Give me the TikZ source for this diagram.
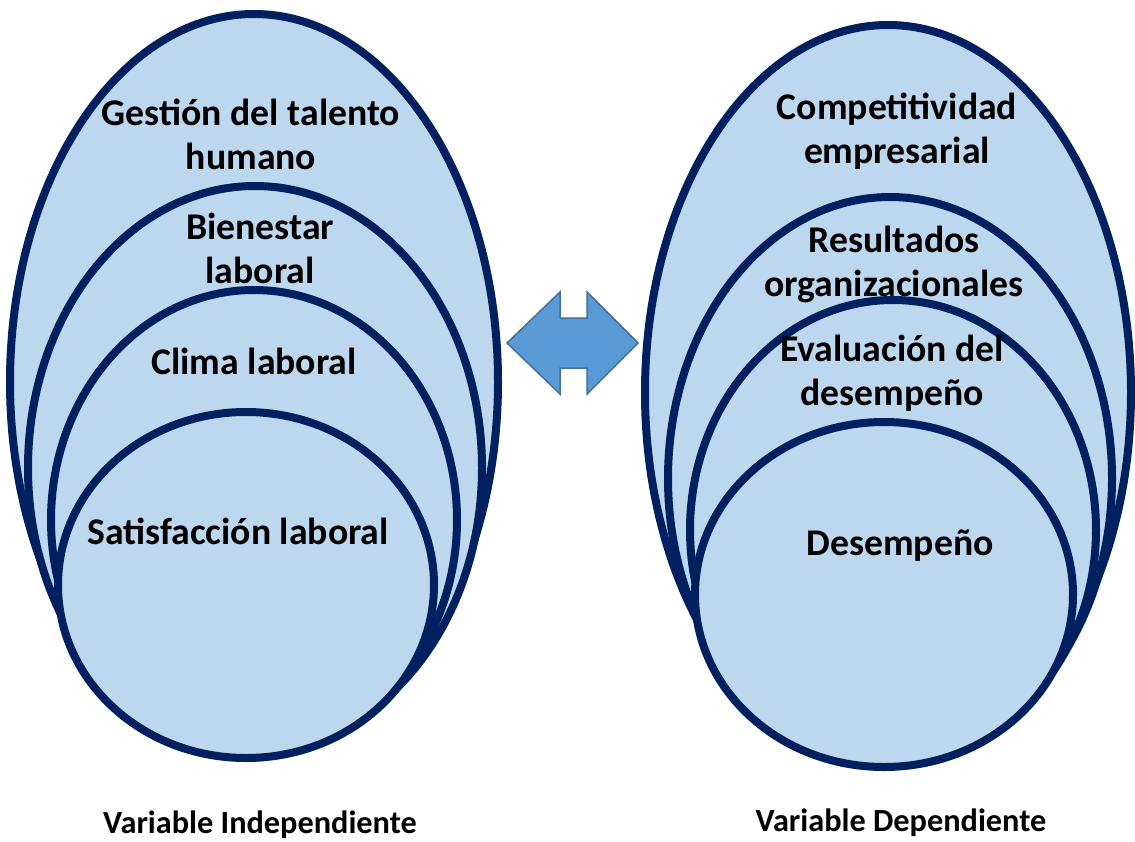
\documentclass[tikz,border=0pt]{standalone}
\usepackage{fontspec}
\setmainfont{Carlito}
\definecolor{navy}{HTML}{002060}
\definecolor{pale}{HTML}{BDD7EE}
\definecolor{arrowfill}{HTML}{5B9BD5}
\definecolor{arrowline}{HTML}{41719C}
\tikzset{
  ring/.style={draw=navy, fill=pale, line width=8pt},
  lbl/.style={align=center, font=\bfseries\fontsize{37.7}{44}\selectfont, inner sep=0pt},
  varcaption/.style={font=\bfseries\fontsize{32.3}{36}\selectfont, inner sep=0pt},
  dblarrow/.style={draw=arrowline, fill=arrowfill, line width=1.5pt, line join=miter}
}
\begin{document}
\begin{tikzpicture}[x=1pt,y=-1pt]
\useasboundingbox (0,0) rectangle (1135,841);
% left group
\draw[ring] (254,382) ellipse [x radius=244, y radius=368];
\node[lbl] (gth) at (251,134) {Gestión del talento\\humano};
\draw[ring] (255,468) ellipse [x radius=227, y radius=282];
\node[lbl] (bl) at (260,248) {Bienestar\\laboral};
\draw[ring] (254,520) ellipse [x radius=203, y radius=230];
\node[lbl] (cl) at (254,361) {Clima laboral};
\draw[ring] (246,585) ellipse [x radius=188, y radius=173];
\node[lbl] (sl) at (238,531) {Satisfacción laboral};
\node[varcaption] (vi) at (260,825) {Variable Independiente};
% right group
\draw[ring] (888,392.5) ellipse [x radius=243, y radius=367.5];
\node[lbl] (ce) at (897,131) {Competitividad\\empresarial};
\draw[ring] (890,478.5) ellipse [x radius=222, y radius=281.5];
\node[lbl] (ro) at (894,264) {Resultados\\organizacionales};
\draw[ring] (893,530) ellipse [x radius=203, y radius=230];
\node[lbl] (ed) at (892,373) {Evaluación del\\desempeño};
\draw[ring] (884,594.5) ellipse [x radius=189, y radius=172.5];
\node[lbl] (de) at (900,546) {Desempeño};
\node[varcaption] (vd) at (901,823) {Variable Dependiente};
% double arrow
\draw[dblarrow] (507,343) -- (560,292) -- (560,318) -- (587,318) -- (587,292) -- (638,343)
  -- (587,394) -- (587,368) -- (560,368) -- (560,394) -- cycle;
\end{tikzpicture}
\end{document}
